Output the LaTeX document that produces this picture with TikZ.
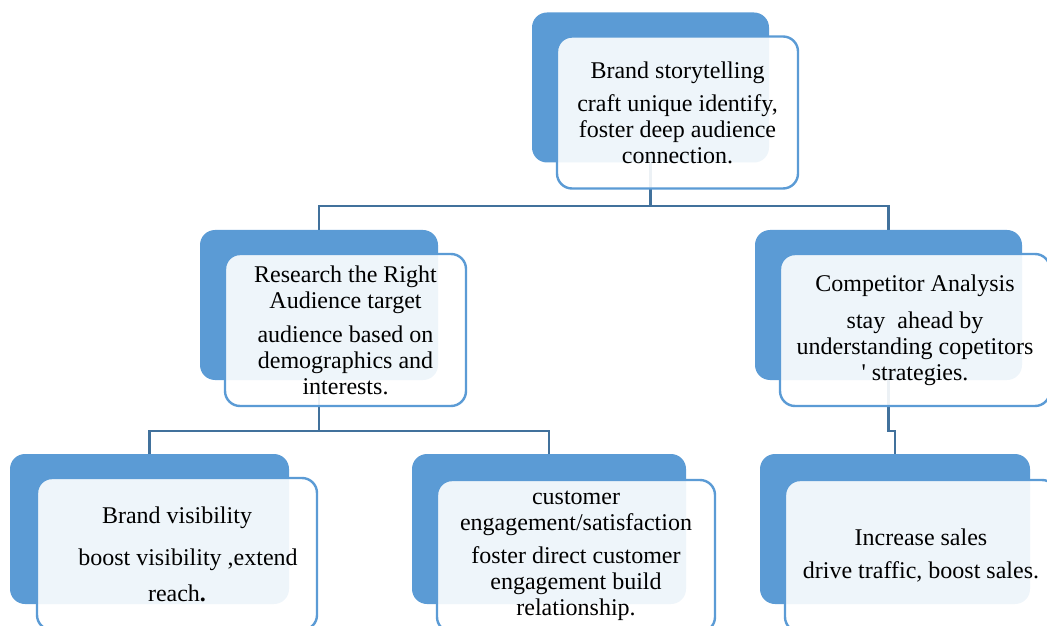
\documentclass[tikz,border=0pt]{standalone}
\usepackage{fontspec}
\setmainfont{Liberation Serif}
\newfontfamily\plainserif{Liberation Serif}
\usetikzlibrary{positioning,backgrounds}

\definecolor{accent}{HTML}{5B9BD5}
\definecolor{linkblue}{HTML}{41719C}

\tikzset{
  backbox/.style={rectangle, rounded corners=7.5pt, fill=accent, minimum height=75pt, inner sep=0pt},
  frontbox/.style={rectangle, rounded corners=7.5pt, draw=accent, line width=1.2pt,
    fill=white, fill opacity=0.9, text opacity=1, minimum height=76pt, inner sep=2pt,
    align=center, font=\fontsize{12}{13}\selectfont},
  link/.style={draw=linkblue, line width=1.2pt}
}

\begin{document}
\begin{tikzpicture}[x=0.5pt,y=-0.5pt]
  \useasboundingbox (0,0) rectangle (1047,625);

  % level 1
  \node[backbox, minimum width=118.5pt] (story-bg) at (650.5,87.5) {};
  \node[frontbox, minimum width=120.5pt] (story) at ([shift={(27,25)}]story-bg.center)
    {Brand storytelling\\[3.5pt] craft unique identify,\\ foster deep audience\\ connection.};

  % level 2
  \node[backbox, minimum width=119pt] (research-bg) at (319,305) {};
  \node[frontbox, minimum width=120.5pt] (research) at ([shift={(26.5,25)}]research-bg.center)
    {Research the Right\\ Audience target\\[4pt] audience based on\\ demographics and\\ interests.};
  \node[backbox, minimum width=133.5pt] (rival-bg) at (888.5,305) {};
  \node[frontbox, minimum width=135pt] (rival) at ([shift={(26.5,25)}]rival-bg.center)
    {Competitor Analysis\\[5.5pt] stay \ ahead by\\ understanding copetitors\\ {\plainserif'} strategies.};

  % level 3
  \node[backbox, minimum width=139.5pt] (visibility-bg) at (149.5,529) {};
  \node[frontbox, minimum width=140pt] (visibility) at ([shift={(27.5,25)}]visibility-bg.center)
    {Brand visibility\\[8pt] \hspace{11pt}boost visibility ,extend\\[5pt] reach{\large\textbf{.}}};
  \node[backbox, minimum width=137pt] (engage-bg) at (549,529) {};
  \node[frontbox, minimum width=139pt] (engage) at ([shift={(27,27)}]engage-bg.center)
    {customer\\ engagement/satisfaction\\[3.5pt] foster direct customer\\ engagement build\\ relationship.};
  \node[backbox, minimum width=135pt] (sales-bg) at (895,529) {};
  \node[frontbox, minimum width=136pt] (sales) at ([shift={(26,27)}]sales-bg.center)
    {Increase sales\\[3.5pt] drive traffic, boost sales.};

  % connectors
  \coordinate (split1) at (650.5,206);
  \coordinate (split2) at (319,431);
  \begin{scope}[on background layer]
    \draw[link] (story-bg.center) -- (split1) -| (research-bg.north);
    \draw[link] (split1) -| (rival-bg.north);
    \draw[link] (research-bg.center) -- (split2) -| (visibility-bg.north);
    \draw[link] (split2) -| (engage-bg.north);
    \draw[link] (rival-bg.center) -- (rival-bg.center |- split2) -| (sales-bg.north);
  \end{scope}
\end{tikzpicture}
\end{document}
